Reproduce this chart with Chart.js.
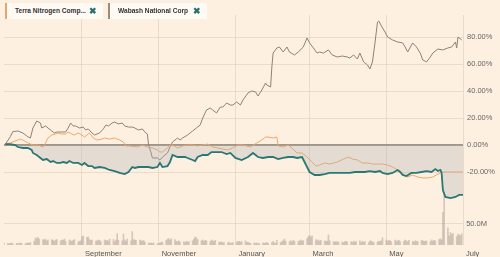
<!DOCTYPE html>
<html><head><meta charset="utf-8">
<script src="https://cdn.jsdelivr.net/npm/chart.js@4.4.0/dist/chart.umd.min.js"></script>
<style>
html,body{margin:0;padding:0;background:#fdf0e1;}
#wrap{position:relative;width:500px;height:257px;overflow:hidden;}
canvas{position:absolute;left:0;top:0;}
.leg{position:absolute;top:3px;height:16px;background:#fffaf4;box-sizing:border-box;border-left:2px solid;font:bold 6.6px "Liberation Sans",Arial,sans-serif;color:#333;line-height:16px;padding-left:8px;white-space:nowrap;}
.leg .x{position:absolute;top:0;color:#2b7070;font-size:9px;line-height:16px;}
</style></head>
<body><div id="wrap"><canvas id="c" width="500" height="257"></canvas>
<div class="leg" style="left:5px;width:98px;border-color:#e9a46a">Terra Nitrogen Comp...<span class="x" style="left:82px">✖</span></div>
<div class="leg" style="left:108px;width:99px;border-color:#9c8b7e">Wabash National Corp<span class="x" style="left:83px">✖</span></div>
</div>
<script>
// x = days since 1 July
const monthTickDays=[62,123,184,243,304,365];
const monthLabels=['September','November','January','March','May','July'];
const pctTicks=[-20,0,20,40,60,80];
const volTicks=[50e6];

const wabashDays=[1,5,7,11,15,19,21,23,26,29,30,33,35,38,40,42,46,49,51,53,55,57,60,63,65,67,70,72,76,79,81,83,86,88,91,94,96,99,102,104,107,110,112,114,115,117,118,122,124,126,130,132,134,138,140,142,146,148,150,153,156,158,161,164,166,169,172,174,177,180,182,185,188,190,194,197,200,202,205,208,209,212,213,214,217,219,222,225,227,231,234,238,241,243,246,249,251,254,258,261,265,269,273,275,278,281,283,286,289,291,293,295,297,298,301,303,305,309,313,317,319,321,325,328,331,333,336,339,341,345,349,353,356,359,360,361,364];
const wabashPct=[0.5,6.1,9.9,10.4,8.9,6.1,5.2,12.6,17.8,16.3,12.6,14.1,12.6,10.4,8.9,9.6,9.6,9.6,12.6,16.3,14.1,14.1,12.6,13.3,11.1,11.9,8.9,7.4,8.9,11.9,14.8,14.1,16.3,17.0,15.6,16.3,14.1,13.3,13.3,12.6,11.1,11.9,9.6,8.1,0,-5.9,-9.6,-9.6,-11.1,-8.9,-5.9,-1.5,2.2,5.2,3.7,5.2,7.4,8.9,10.4,12.6,14.8,20,25.9,27.4,25.9,23.7,28.1,28.1,31.1,29.6,29.6,31.9,29.6,33.3,38.5,40,39.3,36.3,40.7,45.9,44.4,43,57.8,68.1,71.9,72.6,68.9,72.6,68.9,66.7,68.9,72.6,79.3,75.6,71.9,68.1,68.9,68.1,70.4,66.7,65.2,65.9,65.2,64.4,66.7,63.7,68.1,61.5,59.3,56.3,61.5,75.6,91.1,91.9,86.7,83.7,80,77.8,76.3,75.6,72.6,68.9,75.6,72.6,68.1,63,61.5,65.2,68.1,71.1,70.4,71.9,72.6,76.3,71.9,80,77.8];

const terraDays=[1,5,9,13,15,19,23,27,31,33,35,38,41,43,46,49,51,54,56,59,62,64,68,71,74,78,80,84,88,92,95,97,100,106,110,114,118,122,124,126,130,132,134,138,140,142,146,150,154,158,162,166,170,174,178,182,186,190,196,201,205,208,210,214,217,218,222,226,229,233,237,241,245,248,251,255,259,265,270,274,277,281,285,289,293,297,301,305,309,313,317,319,321,325,329,333,337,341,344,348,352,357,363,365];
const terraPct=[0.7,1.5,3,4.4,3.7,1.5,0,0,-1.5,1.5,5.2,7.4,8.1,8.9,8.1,8.1,9.6,8.1,7.4,8.9,7.4,5.9,8.9,5.2,3.7,4.4,5.2,4.4,5.2,3.7,2.2,-0.7,-0.7,-1.5,0,-1.5,-2.2,-3.7,-5.2,-5.2,-2.2,0,0,-2.2,-1.5,-0.7,0,0,-0.7,0,0.7,-1.5,-2.2,-3,-3.7,-2.2,0,0,-1.5,1.5,3.7,5.9,5.9,5.2,5.9,-0.7,-1.5,0,-2.2,-5.9,-5.9,-8.9,-12.6,-15.6,-14.8,-13.3,-14.1,-12.6,-10.4,-8.9,-10.4,-11.1,-13.3,-13.3,-14.1,-14.1,-14.1,-14.8,-16.3,-18.5,-20.7,-23,-23.7,-22.2,-23.7,-24.4,-24.4,-23.7,-22.2,-20,-20,-20,-20,-20];

const mainDays=[1,5,9,11,15,19,22,23,26,29,31,34,37,39,42,45,47,50,52,55,59,62,64,67,70,72,76,80,84,88,92,96,99,102,104,107,111,115,118,122,124,126,130,132,134,138,140,144,146,150,152,154,158,162,165,169,173,177,180,184,189,194,198,202,206,210,214,218,222,226,230,233,237,239,243,247,251,255,259,265,270,275,279,283,287,291,295,299,301,305,309,313,315,317,320,324,328,332,336,340,343,345,347,348,349,351,355,359,362,365];
const mainPct=[0.7,0.7,0,-1.5,-2.2,-2.2,-3.7,-5.9,-7.4,-9.6,-11.1,-10.4,-12.6,-11.9,-13.3,-13.3,-12.6,-13.3,-11.9,-13.3,-13.3,-14.8,-13.3,-15.6,-15.6,-17,-16.3,-17,-18.5,-19.3,-20.7,-21.5,-20,-16.3,-17,-16.3,-16.3,-16.3,-17,-16.3,-13.3,-16.3,-15.6,-12.6,-7.4,-8.9,-8.9,-8.9,-9.6,-11.1,-11.9,-8.9,-7.4,-7.4,-5.2,-5.2,-5.2,-6.7,-5.9,-9.6,-11.1,-8.9,-5.9,-8.9,-9.6,-8.9,-8.9,-10.4,-9.6,-8.9,-8.9,-9.6,-8.9,-12.6,-20,-22.2,-22.2,-21.5,-20.7,-20.7,-20.7,-20.7,-20,-20,-20,-19.3,-20,-19.3,-20.7,-21.5,-20.7,-18.5,-20,-22.2,-23,-20.7,-20.7,-20,-19.3,-20,-17.8,-19.3,-18.5,-20.7,-33.3,-38.5,-39.3,-38.5,-37,-37];

// daily volume (millions), one value per trading day, month by month Jul..Jun
const volJul=[5,4,3,4,5,3,4,4,3,5,4,3,4,5,4,6,9,17,15,18,14];
const volAug=[13,12,14,10,12,13,11,9,12,13,10,12,11,14,9,12,10,8,11,13,7,9,10];
const volSep=[20,21,18,19,13,11,12,9,10,12,11,8,12,10,11,9,14,13,8,12,27,11];
const volOct=[10,26,12,9,14,10,32,13,12,11,12,10,9,11,7,5,4,5,4,5,3];
const volNov=[4,5,6,7,11,14,15,12,15,13,9,8,10,7,8,6,9,7,8,10,14,19];
const volDec=[17,13,10,12,9,11,10,8,12,10,9,11,7,6,8,5,6,5,7,4,5,6];
const volJan=[7,8,9,7,8,10,6,7,5,4,5,4,5,3,4,5,4,5,6,4,5,9];
const volFeb=[5,4,11,6,8,10,14,9,8,10,7,11,9,8,10,12,9,11,15,20];
const volMar=[23,18,22,13,10,12,9,11,10,8,9,24,10,8,7,9,6,8,7,6,8,9,7];
const volApr=[8,6,9,7,8,10,6,9,7,8,6,10,9,8,6,7,9,8,10,17];
const volMay=[12,9,11,10,8,12,9,10,11,8,9,12,10,8,11,9,7,10,9,8,11,10,9];
const volJun=[9,10,8,12,9,11,10,13,15,12,77,125,41,22,30,25,28,20,26,24,22,27];

const pairs=(d,v)=>d.map((x,i)=>({x:x,y:v[i]}));
const volAll=[].concat(volJul,volAug,volSep,volOct,volNov,volDec,volJan,volFeb,volMar,volApr,volMay,volJun);
const volPts=[];
let vi=0;
for(let d=0;d<365&&vi<volAll.length;d++){
  const dt=new Date(2016,6,1+d);
  const wd=dt.getDay();
  if(wd===0||wd===6)continue;
  volPts.push({x:d,y:volAll[vi++]*1e6});
}

const FONT='"Liberation Sans", Arial, sans-serif';
const grid='rgba(214,192,168,0.45)';

new Chart(document.getElementById('c'),{
  type:'line',
  data:{datasets:[
    {label:'Main',data:pairs(mainDays,mainPct),borderColor:'#2a7773',borderWidth:1.8,pointRadius:0,tension:0,fill:'origin',backgroundColor:'rgba(172,176,174,0.30)',yAxisID:'y',order:1},
    {label:'Terra Nitrogen Comp...',data:pairs(terraDays,terraPct),borderColor:'#efa66a',borderWidth:1,pointRadius:0,tension:0,fill:false,yAxisID:'y',order:2},
    {label:'Wabash National Corp',data:pairs(wabashDays,wabashPct),borderColor:'#8d8178',borderWidth:1,pointRadius:0,tension:0,fill:false,yAxisID:'y',order:3},
    {type:'bar',label:'Volume',data:volPts,backgroundColor:'rgba(180,166,154,0.55)',barThickness:1,yAxisID:'yv',order:10}
  ]},
  options:{
    responsive:false,animation:false,devicePixelRatio:1,
    layout:{padding:{left:4,top:15,right:0,bottom:0}},
    plugins:{legend:{display:false},tooltip:{enabled:false}},
    scales:{
      x:{type:'linear',min:0,max:365,offset:false,
        afterBuildTicks:s=>{s.ticks=monthTickDays.map(v=>({value:v}));},
        afterFit:s=>{s.height=12;s.paddingLeft=0;s.paddingRight=0;},
        border:{display:false},
        grid:{color:grid,lineWidth:1,drawTicks:false,offset:false},
        ticks:{autoSkip:false,maxRotation:0,align:'start',labelOffset:3,padding:4,color:'#555',font:{family:FONT,size:7.5},
          callback:(v,i)=>monthLabels[i]}
      },
      y:{position:'right',weight:1,min:-74.07,max:96.30,
        afterBuildTicks:s=>{s.ticks=pctTicks.map(v=>({value:v}));},
        afterFit:s=>{s.width=37;s.paddingTop=0;s.paddingBottom=0;},
        border:{display:false},
        grid:{drawTicks:false,
          color:c=>c.tick&&c.tick.value===0?'#a09586':grid,
          lineWidth:c=>c.tick&&c.tick.value===0?2:1},
        ticks:{padding:4,color:'#666',font:{family:FONT,size:7.5},callback:v=>v.toFixed(2)+'%'}
      },
      yv:{position:'right',weight:0,min:0,max:547.6e6,
        afterBuildTicks:s=>{s.ticks=volTicks.map(v=>({value:v}));},
        afterFit:s=>{s.width=0;s.paddingTop=0;s.paddingBottom=0;},
        border:{display:false},
        grid:{color:grid,lineWidth:1,drawTicks:false},
        ticks:{mirror:true,crossAlign:'near',padding:24,color:'#666',font:{family:FONT,size:7.5},callback:v=>(v/1e6).toFixed(1)+'M'}
      }
    }
  }
});
</script>
</body></html>
